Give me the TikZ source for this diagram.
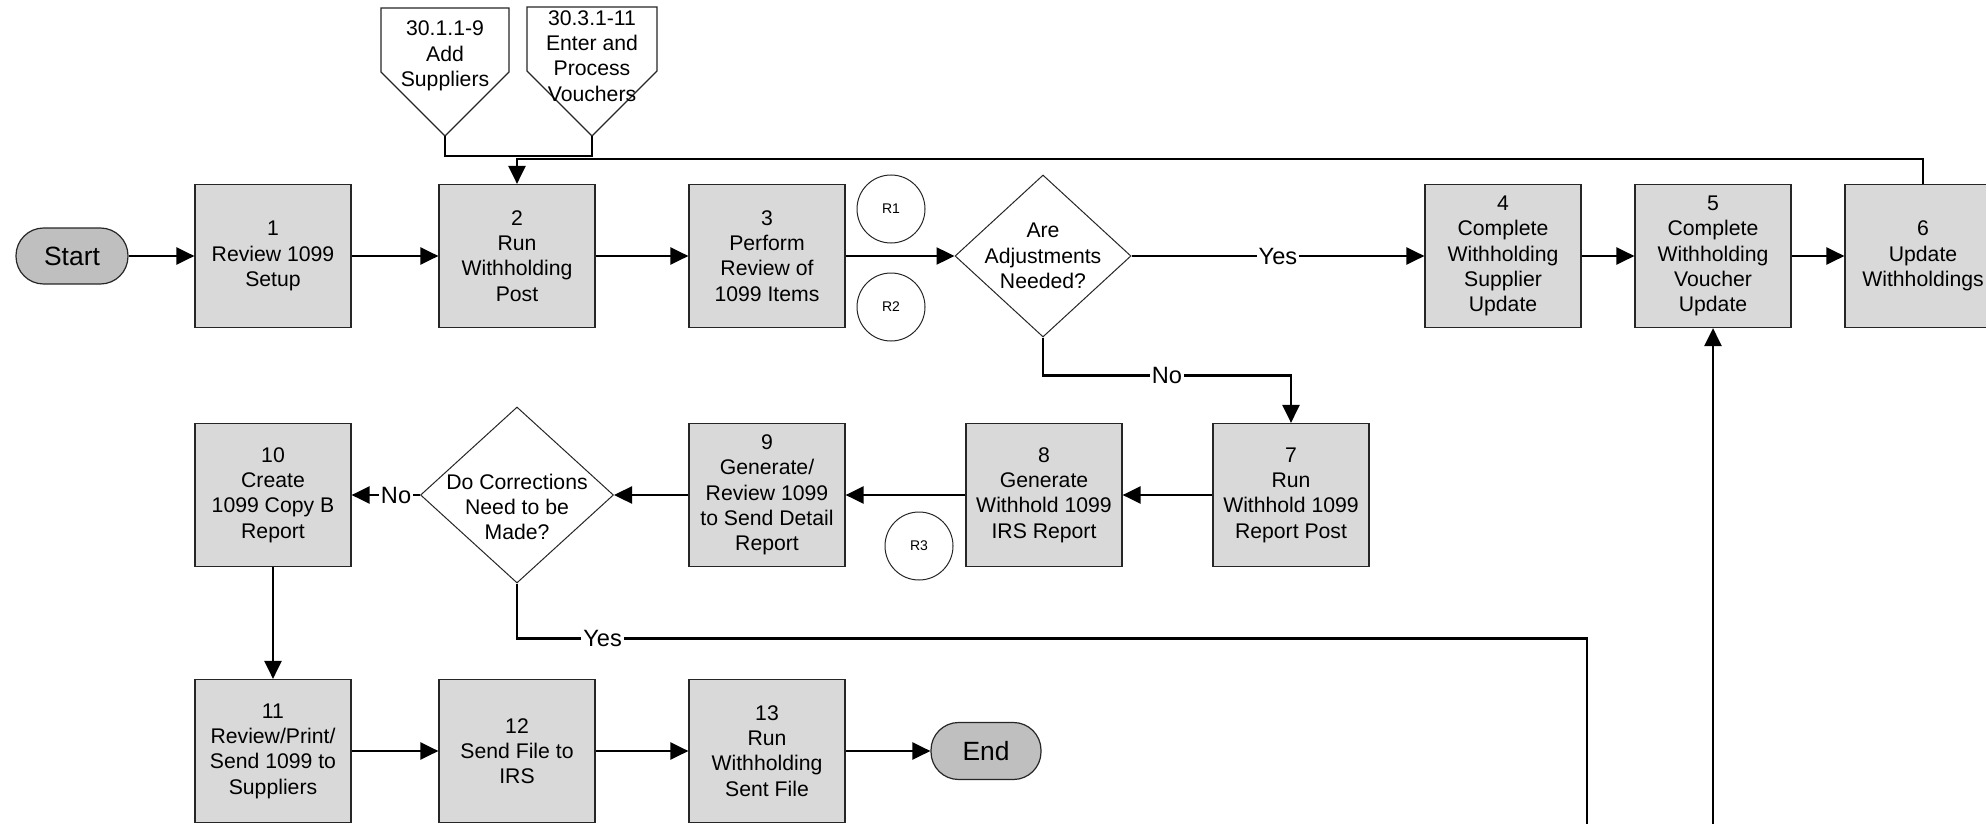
\documentclass[tikz,border=0pt]{standalone}
\usepackage{fontspec}
\setmainfont{Liberation Sans}
\usepackage{tikz}
\usetikzlibrary{shapes.geometric, arrows.meta, calc}
\usepackage{xcolor}
\definecolor{caixacinza}{RGB}{217,217,217}
\definecolor{termcinza}{RGB}{191,191,191}

\begin{document}
\begin{tikzpicture}[x=0.5pt, y=-0.5pt,
    passo/.style={draw=black!85, line width=0.6pt, fill=caixacinza, minimum width=78pt, minimum height=71.5pt, inner sep=0pt, align=center, font=\fontsize{10.6}{12.65}\selectfont},
    terminal/.style={draw=black!85, line width=0.6pt, fill=termcinza, rounded corners=13.8pt, minimum width=56pt, minimum height=28pt, inner sep=0pt, font=\fontsize{13.2}{15}\selectfont},
    decisao/.style={diamond, draw=black!85, line width=0.5pt, fill=white, inner sep=0pt},
    dtexto/.style={align=center, inner sep=0pt, font=\fontsize{10.6}{12.65}\selectfont},
    risco/.style={circle, draw=black!85, line width=0.5pt, minimum size=34pt, inner sep=0pt, font=\fontsize{7}{8}\selectfont},
    optexto/.style={align=center, inner sep=0pt, font=\fontsize{10.6}{12.65}\selectfont},
    opborda/.style={draw=black!85, line width=0.6pt, fill=white},
    rotulo/.style={fill=white, inner sep=1pt, font=\fontsize{11.8}{13}\selectfont},
    linha/.style={line width=1.2pt},
    conn/.style={line width=1.2pt, -{Triangle[length=9pt, width=8.5pt]}}]
    \clip (0,0) rectangle (1986,824);
    % Conectores de outra pagina
    \coordinate (op1tip) at (445,136);
    \coordinate (op2tip) at (592,136);
    \draw[opborda] (op1tip) -- ++(-64,-64) -- ++(0,-64) -- ++(128,0) -- ++(0,64) -- cycle;
    \draw[opborda] (op2tip) -- ++(-65,-65) -- ++(0,-64) -- ++(130,0) -- ++(0,64) -- cycle;
    \node[optexto] (op1) at (445,56) {30.1.1-9\\Add\\Suppliers};
    \node[optexto] (op2) at (592,56) {30.3.1-11\\Enter and\\Process\\Vouchers};
    % Linha 1
    \node[terminal] (start) at (72,256) {Start};
    \node[passo] (s1) at (273,256) {1\\Review 1099\\Setup};
    \node[passo] (s2) at (517,256) {2\\Run\\Withholding\\Post};
    \node[passo] (s3) at (767,256) {3\\Perform\\Review of\\1099 Items};
    \node[risco] (r1) at (891,209) {R1};
    \node[risco] (r2) at (891,307) {R2};
    \node[decisao, minimum width=88pt, minimum height=81pt] (adj) at (1043,256) {};
    \node[dtexto] (adjtxt) at (1043,256) {Are\\Adjustments\\Needed?};
    \node[passo] (s4) at (1503,256) {4\\Complete\\Withholding\\Supplier\\Update};
    \node[passo] (s5) at (1713,256) {5\\Complete\\Withholding\\Voucher\\Update};
    \node[passo] (s6) at (1923,256) {6\\Update\\Withholdings};
    % Linha 2
    \node[passo] (s10) at (273,495) {10\\Create\\1099 Copy B\\Report};
    \node[decisao, minimum width=96.5pt, minimum height=88pt] (cor) at (517,495) {};
    \node[dtexto] (cortxt) at (517,507) {Do Corrections\\Need to be\\Made?};
    \node[passo] (s9) at (767,495) {9\\Generate/\\Review 1099\\to Send Detail\\Report};
    \node[risco] (r3) at (919,546) {R3};
    \node[passo] (s8) at (1044,495) {8\\Generate\\Withhold 1099\\IRS Report};
    \node[passo] (s7) at (1291,495) {7\\Run\\Withhold 1099\\Report Post};
    % Linha 3
    \node[passo] (s11) at (273,751) {11\\Review/Print/\\Send 1099 to\\Suppliers};
    \node[passo] (s12) at (517,751) {12\\Send File to\\IRS};
    \node[passo] (s13) at (767,751) {13\\Run\\Withholding\\Sent File};
    \node[terminal, minimum width=55pt, minimum height=28.5pt] (fim) at (986,751) {End};
    % Saidas da pagina
    \coordinate (yesend) at (1587,830);
    \coordinate (upstart) at (1713,830);
    % Setas
    \draw[conn] (start) -- (s1);
    \draw[conn] (s1) -- (s2);
    \draw[conn] (s2) -- (s3);
    \draw[conn] (s3) -- (adj);
    \draw[conn] (adj) -- node[rotulo] {Yes} (s4);
    \draw[conn] (s4) -- (s5);
    \draw[conn] (s5) -- (s6);
    \draw[conn] (s6.north) -- ++(0,-25) -| (s2.north);
    \draw[linha] (op1tip) -- ++(0,20) -| (op2tip);
    \draw[conn] (adj.south) -- ++(0,38) -| node[rotulo, pos=0.25] {No} (s7.north);
    \draw[conn] (s7) -- (s8);
    \draw[conn] (s8) -- (s9);
    \draw[conn] (s9) -- (cor);
    \draw[conn] (cor) -- node[rotulo, pos=0.35] {No} (s10);
    \draw[linha] (cor.south) -- ++(0,55) coordinate (c1) -- node[rotulo, pos=0.08] {Yes} (c1 -| yesend) -- (yesend);
    \draw[conn] (upstart) -- (s5.south);
    \draw[conn] (s10) -- (s11);
    \draw[conn] (s11) -- (s12);
    \draw[conn] (s12) -- (s13);
    \draw[conn] (s13) -- (fim);
\end{tikzpicture}
\end{document}
